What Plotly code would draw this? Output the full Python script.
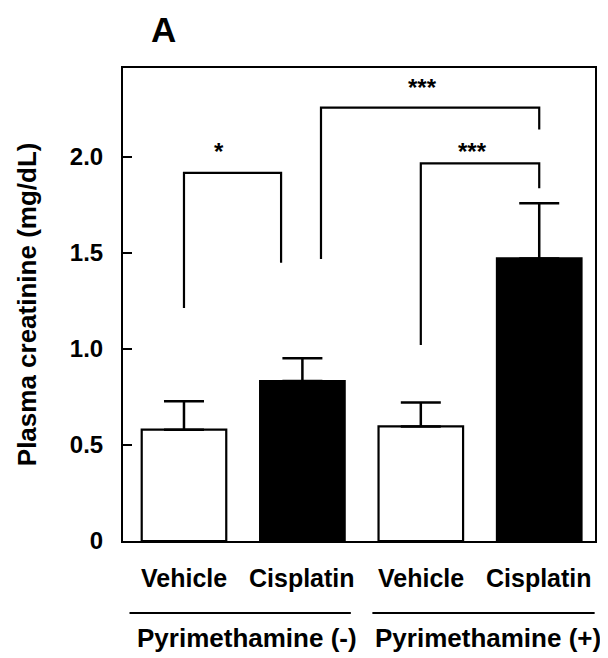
import plotly.graph_objects as go

# ---- data ----
categories = ["Vehicle", "Cisplatin", "Vehicle", "Cisplatin"]
groups = ["Pyrimethamine (-)", "Pyrimethamine (+)"]
creatinine_mean = [0.58, 0.833, 0.597, 1.472]
creatinine_err = [0.148, 0.119, 0.125, 0.287]
bar_colors = ["white", "black", "white", "black"]
y_tickvals = [0, 0.5, 1.0, 1.5, 2.0]
y_ticktext = ["0", "0.5", "1.0", "1.5", "2.0"]

# significance brackets: x left/right, top, left leg bottom, right leg bottom, label
sig_brackets = [
    dict(x0=0.0, x1=0.82, top=1.918, yl=1.214, yr=1.45, label="*", lx=0.297, ly=2.03),
    dict(x0=1.157, x1=3.0, top=2.258, yl=1.469, yr=2.143, label="***", lx=2.017, ly=2.36),
    dict(x0=2.0, x1=3.0, top=1.967, yl=1.021, yr=1.837, label="***", lx=2.44, ly=2.03),
]

FONT = "Liberation Sans, Arial, Helvetica, sans-serif"
xpos = list(range(len(categories)))

fig = go.Figure()
fig.add_trace(go.Bar(
    x=xpos, y=creatinine_mean, width=0.714,
    marker=dict(color=bar_colors, line=dict(color="black", width=2.2)),
    error_y=dict(type="data", array=creatinine_err, arrayminus=[0] * 4,
                 symmetric=False, color="black", thickness=2.5, width=20),
    showlegend=False,
))

shapes = []
annotations = []
for b in sig_brackets:
    path = (f"M {b['x0']},{b['yl']} L {b['x0']},{b['top']} "
            f"L {b['x1']},{b['top']} L {b['x1']},{b['yr']}")
    shapes.append(dict(type="path", path=path, xref="x", yref="y",
                       line=dict(color="black", width=2.2)))
    annotations.append(dict(x=b["lx"], y=b["ly"], xref="x", yref="y",
                            text=b["label"], showarrow=False,
                            font=dict(family=FONT, size=24, color="black", weight="bold"),
                            xanchor="center", yanchor="middle"))

# group underline lines
group_spans = [(-0.46, 1.409), (1.591, 3.468)]
group_centers = [0.53, 2.57]
for (a, c), g, gc in zip(group_spans, groups, group_centers):
    shapes.append(dict(type="line", xref="x", yref="paper", x0=a, x1=c,
                       y0=-0.152, y1=-0.152, line=dict(color="black", width=2)))
    annotations.append(dict(x=gc, y=-0.205, xref="x", yref="paper", text=g,
                            showarrow=False, xanchor="center", yanchor="middle",
                            font=dict(family=FONT, size=26, color="black", weight="bold")))

# category labels
for xc, cat in zip(xpos, categories):
    annotations.append(dict(x=xc, y=-0.079, xref="x", yref="paper", text=cat,
                            showarrow=False, xanchor="center", yanchor="middle",
                            font=dict(family=FONT, size=25, color="black", weight="bold")))

# y axis title
annotations.append(dict(x=-0.204, y=0.5, xref="paper", yref="paper",
                        text="Plasma creatinine (mg/dL)", textangle=-90,
                        showarrow=False, xanchor="center", yanchor="middle",
                        font=dict(family=FONT, size=26, color="black", weight="bold")))
# panel label
annotations.append(dict(x=0.085, y=1.082, xref="paper", yref="paper", text="A",
                        showarrow=False, xanchor="center", yanchor="middle",
                        font=dict(family=FONT, size=35, color="black", weight="bold")))

# page body has a default 8px margin, so the figure is 8px smaller and margins shifted
fig.update_layout(
    width=600, height=650,
    margin=dict(l=115, r=11, t=60, b=117),
    paper_bgcolor="white", plot_bgcolor="white",
    shapes=shapes, annotations=annotations,
    xaxis=dict(range=[-0.515, 3.471], showticklabels=False, ticks="",
               showgrid=False, zeroline=False, showline=True, linecolor="black",
               linewidth=2, mirror=True),
    yaxis=dict(range=[0, 2.464], tickvals=y_tickvals, ticktext=y_ticktext,
               ticks="inside", ticklen=9, tickwidth=2, tickcolor="black",
               showgrid=False, zeroline=False, showline=True, linecolor="black",
               linewidth=2, mirror=True, ticklabelstandoff=13,
               tickfont=dict(family=FONT, size=24, color="black", weight="bold")),
)

fig.write_html("out.html")
